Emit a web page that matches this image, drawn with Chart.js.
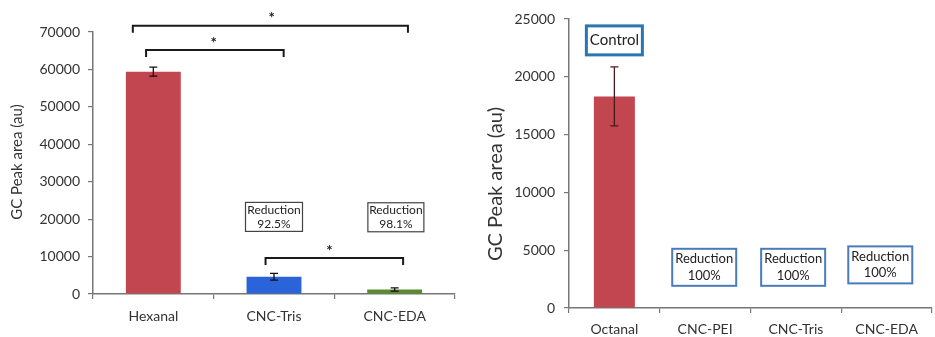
<!DOCTYPE html>
<html>
<head>
<meta charset="utf-8">
<script src="https://cdn.jsdelivr.net/npm/chart.js@4.4.1/dist/chart.umd.min.js"></script>
<style>
  html, body { margin: 0; padding: 0; background: #fff; }
  #wrap { position: relative; width: 935px; height: 337px; overflow: hidden; }
  #leftBox { position: absolute; left: 0; top: 0; width: 465px; height: 337px; }
  #rightBox { position: absolute; left: 465px; top: 0; width: 470px; height: 337px; }
</style>
</head>
<body>
<div id="wrap">
  <div id="leftBox"><canvas id="leftChart" width="465" height="337"></canvas></div>
  <div id="rightBox"><canvas id="rightChart" width="470" height="337"></canvas></div>
</div>
<script>
// left panel: hexanal
const left_labels = ['Hexanal', 'CNC-Tris', 'CNC-EDA'];
const left_values = [59400, 4600, 1200];
const left_errors = [1200, 900, 450];
const left_colors = ['#c1464f', '#2b63d8', '#5b8a2f'];

// right panel: octanal
const right_labels = ['Octanal', 'CNC-PEI', 'CNC-Tris', 'CNC-EDA'];
const right_values = [18300, 0, 0, 0];
const right_errors = [2550, 0, 0, 0];
const right_colors = ['#c1464f', '#c1464f', '#c1464f', '#c1464f'];

const y_title = 'GC Peak area (au)';
const FONT = 'Lato, "Open Sans", sans-serif';

// draws error bars, significance brackets, text boxes and the y title
const extrasPlugin = {
    id: 'extras',
    afterDatasetsDraw(chart, args, opts) {
        const ctx = chart.ctx;
        const xs = chart.scales.x;
        const ys = chart.scales.y;
        ctx.save();

        // error bars
        const meta = chart.getDatasetMeta(0);
        opts.errors.forEach((err, i) => {
            if (!err) return;
            const v = chart.data.datasets[0].data[i];
            const x = meta.data[i].x;
            const yTop = ys.getPixelForValue(v + err);
            const yBot = ys.getPixelForValue(v - err);
            ctx.strokeStyle = opts.errColor;
            ctx.lineWidth = 1.3;
            ctx.beginPath();
            ctx.moveTo(x, yTop); ctx.lineTo(x, yBot);
            ctx.moveTo(x - opts.cap, yTop); ctx.lineTo(x + opts.cap, yTop);
            ctx.moveTo(x - opts.cap, yBot); ctx.lineTo(x + opts.cap, yBot);
            ctx.stroke();
        });

        // brackets with stars
        (opts.brackets || []).forEach(b => {
            const x1 = xs.getPixelForValue(b.from);
            const x2 = xs.getPixelForValue(b.to);
            const y = ys.getPixelForValue(b.y);
            ctx.strokeStyle = '#1a1a1a';
            ctx.lineWidth = 2;
            ctx.beginPath();
            ctx.moveTo(x1, y + 7); ctx.lineTo(x1, y); ctx.lineTo(x2, y); ctx.lineTo(x2, y + 7);
            ctx.stroke();
            ctx.fillStyle = '#1a1a1a';
            ctx.font = 'bold 15px ' + FONT;
            ctx.textAlign = 'center';
            ctx.textBaseline = 'middle';
            ctx.fillText('*', xs.getPixelForValue(b.star), y - 7);
        });

        // text boxes
        (opts.boxes || []).forEach(b => {
            const cx = xs.getPixelForValue(b.x);
            const cy = ys.getPixelForValue(b.y);
            const w = b.w, h = b.h;
            ctx.fillStyle = '#fff';
            ctx.fillRect(cx - w / 2, cy - h / 2, w, h);
            ctx.strokeStyle = b.border;
            ctx.lineWidth = b.lw;
            ctx.strokeRect(cx - w / 2, cy - h / 2, w, h);
            ctx.fillStyle = '#222';
            ctx.font = b.font;
            ctx.textAlign = 'center';
            ctx.textBaseline = 'middle';
            const lines = b.text;
            const lh = b.lh;
            lines.forEach((t, k) => {
                ctx.fillText(t, cx, cy + (k - (lines.length - 1) / 2) * lh);
            });
        });

        // rotated y title
        ctx.translate(opts.titleX, opts.titleY);
        ctx.rotate(-Math.PI / 2);
        ctx.fillStyle = '#333';
        ctx.font = opts.titleFont;
        ctx.textAlign = 'center';
        ctx.textBaseline = 'middle';
        ctx.fillText(y_title, 0, 0);
        ctx.restore();
    }
};

function makeChart(id, labels, values, colors, cfg) {
    return new Chart(document.getElementById(id), {
        type: 'bar',
        data: {
            labels: labels,
            datasets: [{
                data: values,
                backgroundColor: colors,
                borderWidth: 0,
                categoryPercentage: 1.0,
                barPercentage: cfg.barPct
            }]
        },
        options: {
            responsive: false,
            animation: false,
            events: [],
            layout: { padding: cfg.padding },
            plugins: {
                legend: { display: false },
                tooltip: { enabled: false },
                extras: cfg.extras
            },
            scales: {
                x: {
                    grid: { drawOnChartArea: false, drawTicks: true, tickLength: 5, color: '#777', lineWidth: 1.2 },
                    border: { display: true, color: '#777', width: 1.5 },
                    ticks: { color: '#333', font: { family: FONT, size: 14 }, padding: cfg.xPad },
                    afterFit: s => { s.height = cfg.xHeight; }
                },
                y: {
                    min: 0,
                    max: cfg.yMax,
                    grid: { drawOnChartArea: false, drawTicks: true, tickLength: 5, color: '#777', lineWidth: 1.2 },
                    border: { display: true, color: '#777', width: 1.5 },
                    ticks: {
                        stepSize: cfg.yStep, color: '#333', font: { family: FONT, size: 14 }, padding: cfg.yPad,
                        callback: v => String(v)
                    },
                    afterFit: s => { s.width = cfg.yWidth; }
                }
            }
        },
        plugins: [extrasPlugin]
    });
}

makeChart('leftChart', left_labels, left_values, left_colors, {
    barPct: 0.455,
    padding: { left: 0, right: 10, top: 32, bottom: 0 },
    xHeight: 43, xPad: 9,
    yWidth: 93, yPad: 8,
    yMax: 70000, yStep: 10000,
    extras: {
        errors: left_errors, errColor: '#111', cap: 4,
        brackets: [
            { from: -0.17, to: 2.11, y: 71700, star: 0.98 },
            { from: -0.06, to: 1.08, y: 65200, star: 0.5 },
            { from: 0.93, to: 2.07, y: 9650, star: 1.46 }
        ],
        boxes: [
            { x: 1, y: 20600, w: 57, h: 29, text: ['Reduction', '92.5%'], font: '12px ' + FONT, lh: 14.5, border: '#444', lw: 1.2 },
            { x: 2.01, y: 20500, w: 56, h: 29, text: ['Reduction', '98.1%'], font: '12px ' + FONT, lh: 14.5, border: '#444', lw: 1.2 }
        ],
        titleX: 17, titleY: 162, titleFont: '15px ' + FONT
    }
});

makeChart('rightChart', right_labels, right_values, right_colors, {
    barPct: 0.452,
    padding: { left: 0, right: 3, top: 19, bottom: 0 },
    xHeight: 29, xPad: 8,
    yWidth: 104, yPad: 9,
    yMax: 25000, yStep: 5000,
    extras: {
        errors: right_errors, errColor: '#4a1a1a', cap: 4,
        boxes: [
            { x: 0, y: 23150, w: 56, h: 29, text: ['Control'], font: '15px ' + FONT, lh: 15, border: '#2a76b0', lw: 3 },
            { x: 0.99, y: 3520, w: 64, h: 37, text: ['Reduction', '100%'], font: '13px ' + FONT, lh: 16.5, border: '#4b7bba', lw: 2 },
            { x: 1.97, y: 3520, w: 64, h: 37, text: ['Reduction', '100%'], font: '13px ' + FONT, lh: 16.5, border: '#4b7bba', lw: 2 },
            { x: 2.93, y: 3730, w: 64, h: 37, text: ['Reduction', '100%'], font: '13px ' + FONT, lh: 16.5, border: '#4b7bba', lw: 2 }
        ],
        titleX: 31, titleY: 184, titleFont: '20px ' + FONT
    }
});
</script>
</body>
</html>
